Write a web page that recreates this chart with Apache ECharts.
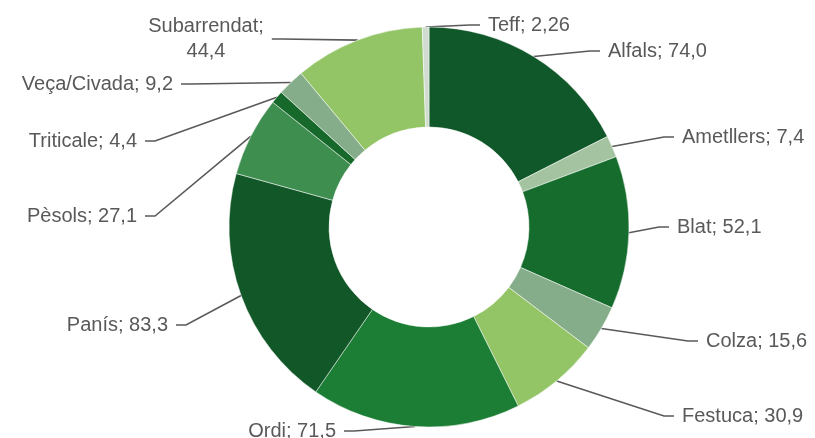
<!DOCTYPE html>
<html>
<head>
<meta charset="utf-8">
<script src="https://cdn.jsdelivr.net/npm/echarts@6/dist/echarts.min.js"></script>
<style>
  html, body { margin: 0; padding: 0; background: #fff; }
  #chart { width: 815px; height: 438px; }
</style>
</head>
<body>
<div id="chart"></div>
<script>
const categories = ['Alfals', 'Ametllers', 'Blat', 'Colza', 'Festuca', 'Ordi', 'Panís', 'Pèsols', 'Triticale', 'Veça/Civada', 'Subarrendat', 'Teff']
const values = [74.0, 7.4, 52.1, 15.6, 30.9, 71.5, 83.3, 27.1, 4.4, 9.2, 44.4, 2.26]
const valueLabels = ['74,0', '7,4', '52,1', '15,6', '30,9', '71,5', '83,3', '27,1', '4,4', '9,2', '44,4', '2,26']
const colors = ['#10582a', '#a3c3a1', '#166c2d', '#86ad89', '#93c567', '#1b7e34', '#115727', '#3e8e50', '#16692b', '#86ad89', '#93c567', '#cfdccf']

// where Excel put each label box (incl. 8px side padding): [x, y, align]
const labelPos = [
  [600, 51, 'left'],
  [674, 137, 'left'],
  [669, 227, 'left'],
  [698, 341, 'left'],
  [674, 416, 'left'],
  [344, 431, 'right'],
  [176, 325, 'right'],
  [145, 216, 'right'],
  [145, 141, 'right'],
  [181, 84, 'right'],
  [206, 39, 'center'],
  [480, 25, 'left']
]

const chart = echarts.init(document.getElementById('chart'))

const option = {
  animation: false,
  textStyle: { fontFamily: 'Liberation Sans, Arial, sans-serif' },
  series: [
    {
      type: 'pie',
      center: [429, 227],
      radius: [100, 200],
      startAngle: 90,
      clockwise: true,
      avoidLabelOverlap: false,
      itemStyle: { borderColor: '#ffffff', borderWidth: 0.5 },
      label: {
        show: true,
        color: '#595959',
        fontSize: 20,
        lineHeight: 25,
        padding: [0, 8],
        formatter: (p) => p.dataIndex === 10
          ? categories[p.dataIndex] + ';\n' + valueLabels[p.dataIndex]
          : categories[p.dataIndex] + '; ' + valueLabels[p.dataIndex]
      },
      labelLine: {
        show: true,
        length: 10,
        length2: 10,
        lineStyle: { color: '#595959', width: 1.6 }
      },
      labelLayout: (params) => {
        const p = labelPos[params.dataIndex]
        return { x: p[0], y: p[1], align: p[2], verticalAlign: 'middle' }
      },
      data: categories.map((name, i) => ({
        name: name,
        value: values[i],
        itemStyle: { color: colors[i] }
      }))
    }
  ]
}

chart.setOption(option)
</script>
</body>
</html>
